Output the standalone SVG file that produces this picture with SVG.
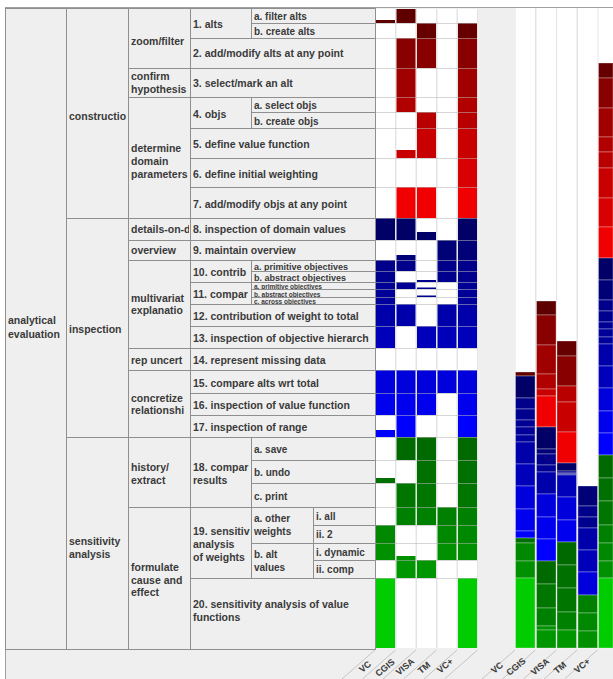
<svg xmlns="http://www.w3.org/2000/svg" width="613" height="679" viewBox="0 0 613 679">
<style>
.c{fill:#efefef;stroke:#8f8f8f;stroke-width:1}
.t{font-family:"Liberation Sans",Arial,sans-serif;font-weight:bold;font-size:10.5px;fill:#3a3a3a}
.s{font-size:10px}
.ss{font-size:9px}
.xs{font-size:6.5px}
.lb{font-family:"Liberation Sans",Arial,sans-serif;font-weight:bold;font-size:9px;fill:#3a3a3a}
.gl{stroke:#b4b4b4;stroke-opacity:.55;stroke-width:1}
.dg{stroke:#c4c4c4;stroke-width:1}
.sg{stroke:#fff;stroke-opacity:.3;stroke-width:1}
.k1a{fill:#5e0000}.k1b{fill:#660000}.k2{fill:#880000}.k3{fill:#a00000}.k4a{fill:#b00000}.k4b{fill:#b80000}.k5{fill:#c80000}.k6{fill:#d80000}.k7{fill:#f00000}
.k8{fill:#000066}.k9{fill:#000077}.k10a{fill:#00008a}.k10b{fill:#00008e}.k11a{fill:#000094}.k11b{fill:#000098}.k11c{fill:#00009c}.k12{fill:#0000aa}.k13{fill:#0000bb}.k15{fill:#0000dd}.k16{fill:#0000ee}.k17{fill:#0000ff}
.k18a{fill:#006a00}.k18b{fill:#007000}.k18c{fill:#007600}.k19a{fill:#008000}.k19b{fill:#008800}.k19c{fill:#009000}.k19d{fill:#009600}.k20{fill:#00cc00}
</style>
<defs>
<clipPath id="cL1"><rect x="5" y="0" width="60" height="679"/></clipPath>
<clipPath id="cL2"><rect x="66" y="0" width="61" height="679"/></clipPath>
<clipPath id="cL3"><rect x="128" y="0" width="61" height="679"/></clipPath>
<clipPath id="cL4n"><rect x="190" y="0" width="60" height="679"/></clipPath>
<clipPath id="cL4"><rect x="190" y="0" width="184" height="679"/></clipPath>
</defs>
<rect x="0" y="0" width="613" height="679" fill="#fff"/>
<rect x="5" y="7" width="608" height="672" fill="#efefef"/>
<path d="M5 7.5H613M5.5 7V679" stroke="#a0a0a0" fill="none"/>

<!-- level 1 -->
<g id="n-analytical-evaluation">
<rect class="c" x="5.5" y="8.5" width="61" height="641"/>
<text class="t" clip-path="url(#cL1)" x="8" y="324">analytical</text>
<text class="t" clip-path="url(#cL1)" x="8" y="338">evaluation</text>
</g>
<!-- level 2 -->
<g id="n-construction"><rect class="c" x="66.5" y="8.5" width="62" height="210"/><text class="t" clip-path="url(#cL2)" x="69" y="120">constructio</text></g>
<g id="n-inspection"><rect class="c" x="66.5" y="218.5" width="62" height="219"/><text class="t" clip-path="url(#cL2)" x="69" y="333">inspection</text></g>
<g id="n-sensitivity-analysis"><rect class="c" x="66.5" y="437.5" width="62" height="212"/><text class="t" clip-path="url(#cL2)" x="69" y="545">sensitivity</text><text class="t" clip-path="url(#cL2)" x="69" y="558">analysis</text></g>
<!-- level 3 -->
<g id="n-zoom-filter"><rect class="c" x="128.5" y="8.5" width="62" height="60"/><text class="t" clip-path="url(#cL3)" x="131" y="45">zoom/filter</text></g>
<g id="n-confirm"><rect class="c" x="128.5" y="68.5" width="62" height="29"/><text class="t" clip-path="url(#cL3)" x="131" y="80">confirm</text><text class="t" clip-path="url(#cL3)" x="131" y="93">hypothesis</text></g>
<g id="n-determine"><rect class="c" x="128.5" y="97.5" width="62" height="121"/><text class="t" clip-path="url(#cL3)" x="131" y="152">determine</text><text class="t" clip-path="url(#cL3)" x="131" y="165">domain</text><text class="t" clip-path="url(#cL3)" x="131" y="178">parameters</text></g>
<g id="n-details"><rect class="c" x="128.5" y="218.5" width="62" height="22"/><text class="t" clip-path="url(#cL3)" x="131" y="233">details-on-d</text></g>
<g id="n-overview"><rect class="c" x="128.5" y="240.5" width="62" height="20"/><text class="t" clip-path="url(#cL3)" x="131" y="254">overview</text></g>
<g id="n-multivariate"><rect class="c" x="128.5" y="260.5" width="62" height="88"/><text class="t" clip-path="url(#cL3)" x="131" y="302">multivariat</text><text class="t" clip-path="url(#cL3)" x="131" y="314">explanatio</text></g>
<g id="n-rep-uncert"><rect class="c" x="128.5" y="348.5" width="62" height="22"/><text class="t" clip-path="url(#cL3)" x="131" y="364">rep uncert</text></g>
<g id="n-concretize"><rect class="c" x="128.5" y="370.5" width="62" height="67"/><text class="t" clip-path="url(#cL3)" x="131" y="402">concretize</text><text class="t" clip-path="url(#cL3)" x="131" y="414">relationshi</text></g>
<g id="n-history"><rect class="c" x="128.5" y="437.5" width="62" height="70"/><text class="t" clip-path="url(#cL3)" x="131" y="471">history/</text><text class="t" clip-path="url(#cL3)" x="131" y="484">extract</text></g>
<g id="n-formulate"><rect class="c" x="128.5" y="507.5" width="62" height="142"/><text class="t" clip-path="url(#cL3)" x="131" y="571">formulate</text><text class="t" clip-path="url(#cL3)" x="131" y="584">cause and</text><text class="t" clip-path="url(#cL3)" x="131" y="596">effect</text></g>
<!-- level 4 -->
<g id="n-1"><rect class="c" x="190.5" y="8.5" width="61" height="30"/><text class="t" clip-path="url(#cL4n)" x="193" y="28">1. alts</text>
<rect class="c" x="251.5" y="8.5" width="124" height="15"/><text class="t s" x="254" y="19.5">a. filter alts</text>
<rect class="c" x="251.5" y="23.5" width="124" height="15"/><text class="t s" x="254" y="35">b. create alts</text></g>
<g id="n-2"><rect class="c" x="190.5" y="38.5" width="185" height="30"/><text class="t" x="193" y="57">2. add/modify alts at any point</text></g>
<g id="n-3"><rect class="c" x="190.5" y="68.5" width="185" height="29"/><text class="t" x="193" y="87">3. select/mark an alt</text></g>
<g id="n-4"><rect class="c" x="190.5" y="97.5" width="61" height="31"/><text class="t" clip-path="url(#cL4n)" x="193" y="118">4. objs</text>
<rect class="c" x="251.5" y="97.5" width="124" height="15"/><text class="t s" x="254" y="109">a. select objs</text>
<rect class="c" x="251.5" y="112.5" width="124" height="16"/><text class="t s" x="254" y="124.5">b. create objs</text></g>
<g id="n-5"><rect class="c" x="190.5" y="128.5" width="185" height="30"/><text class="t" x="193" y="148">5. define value function</text></g>
<g id="n-6"><rect class="c" x="190.5" y="158.5" width="185" height="29"/><text class="t" x="193" y="178">6. define initial weighting</text></g>
<g id="n-7"><rect class="c" x="190.5" y="187.5" width="185" height="31"/><text class="t" x="193" y="208">7. add/modify objs at any point</text></g>
<g id="n-8"><rect class="c" x="190.5" y="218.5" width="185" height="22"/><text class="t" x="193" y="233">8. inspection of domain values</text></g>
<g id="n-9"><rect class="c" x="190.5" y="240.5" width="185" height="20"/><text class="t" x="193" y="254">9. maintain overview</text></g>
<g id="n-10"><rect class="c" x="190.5" y="260.5" width="61" height="22"/><text class="t" clip-path="url(#cL4n)" x="193" y="276">10. contrib</text>
<rect class="c" x="251.5" y="260.5" width="124" height="11"/><text class="t ss" x="254" y="270">a. primitive objectives</text>
<rect class="c" x="251.5" y="271.5" width="124" height="11"/><text class="t ss" x="254" y="281">b. abstract objectives</text></g>
<g id="n-11"><rect class="c" x="190.5" y="282.5" width="61" height="22"/><text class="t" clip-path="url(#cL4n)" x="193" y="298">11. compar</text>
<rect class="c" x="251.5" y="282.5" width="124" height="7"/><text class="t xs" x="254" y="289">a. primitive objectives</text>
<rect class="c" x="251.5" y="289.5" width="124" height="8"/><text class="t xs" x="254" y="296.5">b. abstract objectives</text>
<rect class="c" x="251.5" y="297.5" width="124" height="7"/><text class="t xs" x="254" y="304">c. across objectives</text></g>
<g id="n-12"><rect class="c" x="190.5" y="304.5" width="185" height="22"/><text class="t" x="193" y="320">12. contribution of weight to total</text></g>
<g id="n-13"><rect class="c" x="190.5" y="326.5" width="185" height="22"/><text class="t" clip-path="url(#cL4)" x="193" y="342">13. inspection of objective hierarch</text></g>
<g id="n-14"><rect class="c" x="190.5" y="348.5" width="185" height="22"/><text class="t" x="193" y="364">14. represent missing data</text></g>
<g id="n-15"><rect class="c" x="190.5" y="370.5" width="185" height="23"/><text class="t" x="193" y="387">15. compare alts wrt total</text></g>
<g id="n-16"><rect class="c" x="190.5" y="393.5" width="185" height="22"/><text class="t" x="193" y="409">16. inspection of value function</text></g>
<g id="n-17"><rect class="c" x="190.5" y="415.5" width="185" height="22"/><text class="t" x="193" y="431">17. inspection of range</text></g>
<g id="n-18"><rect class="c" x="190.5" y="437.5" width="61" height="70"/><text class="t" clip-path="url(#cL4n)" x="193" y="471">18. compar</text><text class="t" clip-path="url(#cL4n)" x="193" y="484">results</text>
<rect class="c" x="251.5" y="437.5" width="124" height="23"/><text class="t s" x="254" y="453">a. save</text>
<rect class="c" x="251.5" y="460.5" width="124" height="23"/><text class="t s" x="254" y="476">b. undo</text>
<rect class="c" x="251.5" y="483.5" width="124" height="24"/><text class="t s" x="254" y="500">c. print</text></g>
<g id="n-19"><rect class="c" x="190.5" y="507.5" width="61" height="71"/><text class="t" clip-path="url(#cL4n)" x="193" y="535">19. sensitiv</text><text class="t" clip-path="url(#cL4n)" x="193" y="548">analysis</text><text class="t" clip-path="url(#cL4n)" x="193" y="561">of weights</text>
<rect class="c" x="251.5" y="507.5" width="62" height="36"/><text class="t s" x="254" y="522">a. other</text><text class="t s" x="254" y="535">weights</text>
<rect class="c" x="313.5" y="507.5" width="62" height="18"/><text class="t s" x="316" y="520">i. all</text>
<rect class="c" x="313.5" y="525.5" width="62" height="18"/><text class="t s" x="316" y="538">ii. 2</text>
<rect class="c" x="251.5" y="543.5" width="62" height="35"/><text class="t s" x="254" y="558">b. alt</text><text class="t s" x="254" y="571">values</text>
<rect class="c" x="313.5" y="543.5" width="62" height="17"/><text class="t s" x="316" y="556">i. dynamic</text>
<rect class="c" x="313.5" y="560.5" width="62" height="18"/><text class="t s" x="316" y="573">ii. comp</text></g>
<g id="n-20"><rect class="c" x="190.5" y="578.5" width="185" height="71"/><text class="t" x="193" y="608">20. sensitivity analysis of value</text><text class="t" x="193" y="621">functions</text></g>

<!-- matrix -->
<g id="matrix">
<rect x="376" y="9" width="102" height="639" fill="#e4e4e4"/>
<rect x="376" y="9" width="19" height="639" fill="#fff"/>
<rect x="396.5" y="9" width="19" height="639" fill="#fff"/>
<rect x="417" y="9" width="19" height="639" fill="#fff"/>
<rect x="437.5" y="9" width="19" height="639" fill="#fff"/>
<rect x="458" y="9" width="19" height="639" fill="#fff"/>
<rect class="k1a" x="376" y="20" width="19" height="3"/><rect class="k1a" x="396.5" y="9" width="19" height="14"/>
<rect class="k1b" x="417" y="23" width="19" height="15"/><rect class="k1b" x="458" y="23" width="19" height="15"/>
<rect class="k2" x="396.5" y="38" width="19" height="30"/><rect class="k2" x="417" y="38" width="19" height="30"/><rect class="k2" x="458" y="38" width="19" height="30"/>
<rect class="k3" x="396.5" y="68" width="19" height="29"/><rect class="k3" x="458" y="68" width="19" height="29"/>
<rect class="k4a" x="396.5" y="97" width="19" height="15"/><rect class="k4a" x="458" y="97" width="19" height="15"/>
<rect class="k4b" x="417" y="112" width="19" height="16"/><rect class="k4b" x="458" y="112" width="19" height="16"/>
<rect class="k5" x="396.5" y="150" width="19" height="8"/><rect class="k5" x="417" y="128" width="19" height="30"/><rect class="k5" x="458" y="128" width="19" height="30"/>
<rect class="k6" x="458" y="158" width="19" height="29"/>
<rect class="k7" x="396.5" y="187" width="19" height="31"/><rect class="k7" x="417" y="187" width="19" height="31"/><rect class="k7" x="458" y="187" width="19" height="31"/>
<rect class="k8" x="376" y="218" width="19" height="22"/><rect class="k8" x="396.5" y="218" width="19" height="22"/><rect class="k8" x="417" y="232" width="19" height="8"/><rect class="k8" x="458" y="218" width="19" height="22"/>
<rect class="k9" x="396.5" y="255" width="19" height="5"/><rect class="k9" x="437.5" y="240" width="19" height="20"/><rect class="k9" x="458" y="240" width="19" height="20"/>
<rect class="k10a" x="376" y="260" width="19" height="11"/><rect class="k10a" x="396.5" y="260" width="19" height="11"/><rect class="k10a" x="437.5" y="260" width="19" height="11"/><rect class="k10a" x="458" y="260" width="19" height="11"/>
<rect class="k10b" x="376" y="271" width="19" height="11"/><rect class="k10b" x="417" y="280" width="19" height="2"/><rect class="k10b" x="437.5" y="271" width="19" height="11"/><rect class="k10b" x="458" y="271" width="19" height="11"/>
<rect class="k11a" x="376" y="282" width="19" height="7"/><rect class="k11a" x="396.5" y="282" width="19" height="7"/><rect class="k11a" x="417" y="287.5" width="19" height="1.5"/><rect class="k11a" x="458" y="282" width="19" height="7"/>
<rect class="k11b" x="376" y="289" width="19" height="8"/><rect class="k11b" x="417" y="295.5" width="19" height="1.5"/><rect class="k11b" x="458" y="289" width="19" height="8"/>
<rect class="k11c" x="376" y="297" width="19" height="7"/><rect class="k11c" x="458" y="297" width="19" height="7"/>
<rect class="k12" x="376" y="304" width="19" height="22"/><rect class="k12" x="396.5" y="304" width="19" height="22"/><rect class="k12" x="437.5" y="304" width="19" height="22"/><rect class="k12" x="458" y="304" width="19" height="22"/>
<rect class="k13" x="376" y="326" width="19" height="22"/><rect class="k13" x="417" y="326" width="19" height="22"/><rect class="k13" x="437.5" y="326" width="19" height="22"/><rect class="k13" x="458" y="326" width="19" height="22"/>
<rect class="k15" x="376" y="370" width="19" height="23"/><rect class="k15" x="396.5" y="370" width="19" height="23"/><rect class="k15" x="417" y="370" width="19" height="23"/><rect class="k15" x="437.5" y="370" width="19" height="23"/><rect class="k15" x="458" y="370" width="19" height="23"/>
<rect class="k16" x="376" y="393" width="19" height="22"/><rect class="k16" x="396.5" y="393" width="19" height="22"/><rect class="k16" x="417" y="393" width="19" height="22"/><rect class="k16" x="458" y="393" width="19" height="22"/>
<rect class="k17" x="376" y="430" width="19" height="7"/><rect class="k17" x="396.5" y="415" width="19" height="22"/><rect class="k17" x="458" y="415" width="19" height="22"/>
<rect class="k18a" x="396.5" y="437" width="19" height="23"/><rect class="k18a" x="417" y="437" width="19" height="23"/><rect class="k18a" x="458" y="437" width="19" height="23"/>
<rect class="k18b" x="376" y="478" width="19" height="5"/><rect class="k18b" x="417" y="460" width="19" height="23"/><rect class="k18b" x="458" y="460" width="19" height="23"/>
<rect class="k18c" x="396.5" y="483" width="19" height="24"/><rect class="k18c" x="417" y="483" width="19" height="24"/><rect class="k18c" x="458" y="483" width="19" height="24"/>
<rect class="k19a" x="396.5" y="507" width="19" height="18"/><rect class="k19a" x="417" y="507" width="19" height="18"/><rect class="k19a" x="437.5" y="507" width="19" height="18"/><rect class="k19a" x="458" y="507" width="19" height="18"/>
<rect class="k19b" x="376" y="525" width="19" height="18"/><rect class="k19b" x="437.5" y="525" width="19" height="18"/><rect class="k19b" x="458" y="525" width="19" height="18"/>
<rect class="k19c" x="376" y="543" width="19" height="17"/><rect class="k19c" x="396.5" y="556" width="19" height="4"/><rect class="k19c" x="437.5" y="543" width="19" height="17"/><rect class="k19c" x="458" y="543" width="19" height="17"/>
<rect class="k19d" x="396.5" y="560" width="19" height="18"/><rect class="k19d" x="417" y="560" width="19" height="18"/>
<rect class="k20" x="376" y="578" width="19" height="70"/><rect class="k20" x="458" y="578" width="19" height="70"/>
<path class="gl" d="M376 23.5H477M376 38.5H477M376 68.5H477M376 97.5H477M376 112.5H477M376 128.5H477M376 158.5H477M376 187.5H477M376 218.5H477M376 240.5H477M376 260.5H477M376 271.5H477M376 282.5H477M376 289.5H477M376 297.5H477M376 304.5H477M376 326.5H477M376 348.5H477M376 370.5H477M376 393.5H477M376 415.5H477M376 437.5H477M376 460.5H477M376 483.5H477M376 507.5H477M376 525.5H477M376 543.5H477M376 560.5H477M376 578.5H477"/>
</g>

<!-- stacked chart -->
<g id="stacks">
<rect x="515" y="8" width="98" height="640" fill="#e4e4e4"/>
<rect x="515.5" y="8" width="19.5" height="640" fill="#fff"/>
<rect x="536.5" y="8" width="19.5" height="640" fill="#fff"/>
<rect x="557" y="8" width="19.5" height="640" fill="#fff"/>
<rect x="578" y="8" width="19.5" height="640" fill="#fff"/>
<rect x="598.5" y="8" width="14.5" height="640" fill="#fff"/>
<g id="stack-vc" class="sg">
<rect class="k1a" x="515.5" y="372" width="19.5" height="4"/>
<rect class="k8" x="515.5" y="376" width="19.5" height="22"/>
<rect class="k10a" x="515.5" y="398" width="19.5" height="11"/>
<rect class="k10b" x="515.5" y="409" width="19.5" height="11"/>
<rect class="k11a" x="515.5" y="420" width="19.5" height="7"/>
<rect class="k11b" x="515.5" y="427" width="19.5" height="8"/>
<rect class="k11c" x="515.5" y="435" width="19.5" height="7"/>
<rect class="k12" x="515.5" y="442" width="19.5" height="22"/>
<rect class="k13" x="515.5" y="464" width="19.5" height="22"/>
<rect class="k15" x="515.5" y="486" width="19.5" height="23"/>
<rect class="k16" x="515.5" y="509" width="19.5" height="22"/>
<rect class="k17" x="515.5" y="531" width="19.5" height="7"/>
<rect class="k18b" x="515.5" y="538" width="19.5" height="5"/>
<rect class="k19b" x="515.5" y="543" width="19.5" height="18"/>
<rect class="k19c" x="515.5" y="561" width="19.5" height="17"/>
<rect class="k20" x="515.5" y="578" width="19.5" height="70"/>
</g>
<g id="stack-cgis" class="sg">
<rect class="k1a" x="536.5" y="301" width="19.5" height="14"/>
<rect class="k2" x="536.5" y="315" width="19.5" height="30"/>
<rect class="k3" x="536.5" y="345" width="19.5" height="29"/>
<rect class="k4a" x="536.5" y="374" width="19.5" height="15"/>
<rect class="k5" x="536.5" y="389" width="19.5" height="7"/>
<rect class="k7" x="536.5" y="396" width="19.5" height="31"/>
<rect class="k8" x="536.5" y="427" width="19.5" height="22"/>
<rect class="k9" x="536.5" y="449" width="19.5" height="5"/>
<rect class="k10a" x="536.5" y="454" width="19.5" height="11"/>
<rect class="k11a" x="536.5" y="465" width="19.5" height="7"/>
<rect class="k12" x="536.5" y="472" width="19.5" height="22"/>
<rect class="k15" x="536.5" y="494" width="19.5" height="23"/>
<rect class="k16" x="536.5" y="517" width="19.5" height="22"/>
<rect class="k17" x="536.5" y="539" width="19.5" height="22"/>
<rect class="k18a" x="536.5" y="561" width="19.5" height="23"/>
<rect class="k18c" x="536.5" y="584" width="19.5" height="24"/>
<rect class="k19a" x="536.5" y="608" width="19.5" height="18"/>
<rect class="k19c" x="536.5" y="626" width="19.5" height="4"/>
<rect class="k19d" x="536.5" y="630" width="19.5" height="18"/>
</g>
<g id="stack-visa" class="sg">
<rect class="k1b" x="557" y="341" width="19.5" height="15"/>
<rect class="k2" x="557" y="356" width="19.5" height="30"/>
<rect class="k4b" x="557" y="386" width="19.5" height="16"/>
<rect class="k5" x="557" y="402" width="19.5" height="30"/>
<rect class="k7" x="557" y="432" width="19.5" height="31"/>
<rect class="k8" x="557" y="463" width="19.5" height="8"/>
<rect class="k10b" x="557" y="471" width="19.5" height="2"/>
<rect class="k11a" x="557" y="473" width="19.5" height="1"/>
<rect class="k11b" x="557" y="474" width="19.5" height="1"/>
<rect class="k13" x="557" y="475" width="19.5" height="22"/>
<rect class="k15" x="557" y="497" width="19.5" height="23"/>
<rect class="k16" x="557" y="520" width="19.5" height="22"/>
<rect class="k18a" x="557" y="542" width="19.5" height="23"/>
<rect class="k18b" x="557" y="565" width="19.5" height="23"/>
<rect class="k18c" x="557" y="588" width="19.5" height="24"/>
<rect class="k19a" x="557" y="612" width="19.5" height="18"/>
<rect class="k19d" x="557" y="630" width="19.5" height="18"/>
</g>
<g id="stack-tm" class="sg">
<rect class="k9" x="578" y="486" width="19.5" height="20"/>
<rect class="k10a" x="578" y="506" width="19.5" height="11"/>
<rect class="k10b" x="578" y="517" width="19.5" height="11"/>
<rect class="k12" x="578" y="528" width="19.5" height="22"/>
<rect class="k13" x="578" y="550" width="19.5" height="22"/>
<rect class="k15" x="578" y="572" width="19.5" height="23"/>
<rect class="k19a" x="578" y="595" width="19.5" height="18"/>
<rect class="k19b" x="578" y="613" width="19.5" height="18"/>
<rect class="k19c" x="578" y="631" width="19.5" height="17"/>
</g>
<g id="stack-vcplus" class="sg">
<rect class="k1b" x="598.5" y="63" width="14.5" height="15"/>
<rect class="k2" x="598.5" y="78" width="14.5" height="30"/>
<rect class="k3" x="598.5" y="108" width="14.5" height="29"/>
<rect class="k4a" x="598.5" y="137" width="14.5" height="15"/>
<rect class="k4b" x="598.5" y="152" width="14.5" height="16"/>
<rect class="k5" x="598.5" y="168" width="14.5" height="30"/>
<rect class="k6" x="598.5" y="198" width="14.5" height="29"/>
<rect class="k7" x="598.5" y="227" width="14.5" height="31"/>
<rect class="k8" x="598.5" y="258" width="14.5" height="22"/>
<rect class="k9" x="598.5" y="280" width="14.5" height="20"/>
<rect class="k10a" x="598.5" y="300" width="14.5" height="11"/>
<rect class="k10b" x="598.5" y="311" width="14.5" height="11"/>
<rect class="k11a" x="598.5" y="322" width="14.5" height="7"/>
<rect class="k11b" x="598.5" y="329" width="14.5" height="8"/>
<rect class="k11c" x="598.5" y="337" width="14.5" height="7"/>
<rect class="k12" x="598.5" y="344" width="14.5" height="22"/>
<rect class="k13" x="598.5" y="366" width="14.5" height="22"/>
<rect class="k15" x="598.5" y="388" width="14.5" height="23"/>
<rect class="k16" x="598.5" y="411" width="14.5" height="22"/>
<rect class="k17" x="598.5" y="433" width="14.5" height="22"/>
<rect class="k18a" x="598.5" y="455" width="14.5" height="23"/>
<rect class="k18b" x="598.5" y="478" width="14.5" height="23"/>
<rect class="k18c" x="598.5" y="501" width="14.5" height="24"/>
<rect class="k19a" x="598.5" y="525" width="14.5" height="18"/>
<rect class="k19b" x="598.5" y="543" width="14.5" height="18"/>
<rect class="k19c" x="598.5" y="561" width="14.5" height="17"/>
<rect class="k20" x="598.5" y="578" width="14.5" height="70"/>
</g>
</g>

<!-- bottom labels -->
<g id="axis-labels">
<path class="dg" d="M375 650L342 679M395.5 650L362.5 679M416 650L383 679M436.5 650L403.5 679M457 650L424 679M477.5 650L444.5 679M515 650L482 679M535.5 650L502.5 679M556.5 650L523.5 679M577 650L544 679M597.5 650L564.5 679"/>
<text class="lb" text-anchor="middle" transform="translate(367,669) rotate(-40)">VC</text>
<text class="lb" text-anchor="middle" transform="translate(387,670) rotate(-40)">CGIS</text>
<text class="lb" text-anchor="middle" transform="translate(407,669) rotate(-40)">VISA</text>
<text class="lb" text-anchor="middle" transform="translate(426,670) rotate(-40)">TM</text>
<text class="lb" text-anchor="middle" transform="translate(447,668) rotate(-40)">VC+</text>
<text class="lb" text-anchor="middle" transform="translate(499,670) rotate(-40)">VC</text>
<text class="lb" text-anchor="middle" transform="translate(518,669) rotate(-40)">CGIS</text>
<text class="lb" text-anchor="middle" transform="translate(542,669) rotate(-40)">VISA</text>
<text class="lb" text-anchor="middle" transform="translate(562,670) rotate(-40)">TM</text>
<text class="lb" text-anchor="middle" transform="translate(584,668) rotate(-40)">VC+</text>
</g>
</svg>
